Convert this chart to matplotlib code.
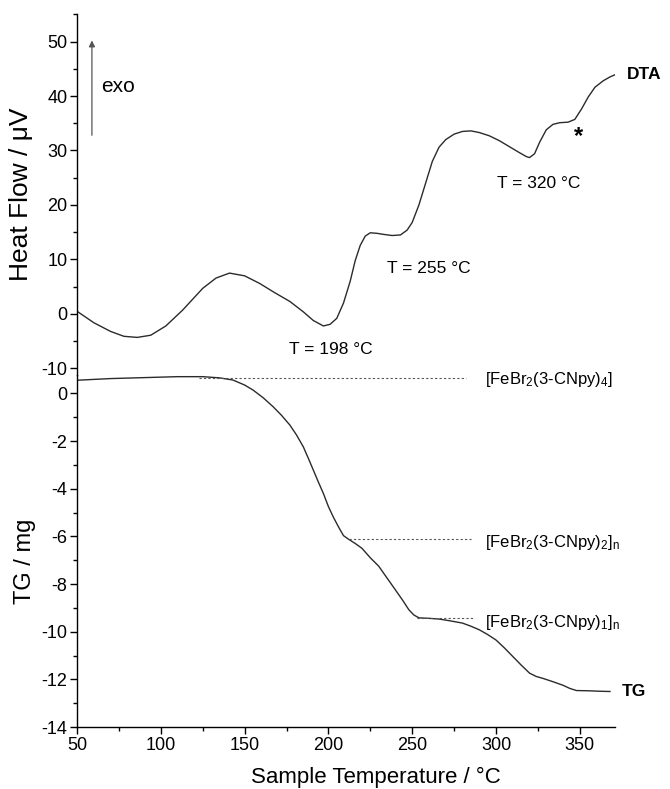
import numpy as np
import matplotlib
matplotlib.use("Agg")
import matplotlib.pyplot as plt
from matplotlib.ticker import MultipleLocator

plt.rcParams["font.family"] = ["Liberation Sans", "DejaVu Sans"]
plt.rcParams["mathtext.default"] = "regular"
plt.rcParams["axes.unicode_minus"] = False

# DTA trace (temperature in deg C, heat flow in uV)
dta_t = [50, 60, 70, 78, 86, 94, 103, 113, 125, 133, 141, 150, 159, 168, 177,
         185, 191, 197, 201, 205, 209, 213, 216, 219, 222, 225, 229, 233, 238,
         243, 247, 250, 254, 258, 262, 266, 270, 275, 280, 285, 290, 296, 302,
         308, 314, 318, 320, 323, 326, 330, 334, 338, 343, 347, 351, 355, 359,
         364, 368, 371]
dta_hf = [0.5, -1.6, -3.2, -4.1, -4.3, -3.9, -2.2, 0.7, 4.7, 6.6, 7.5, 7.0, 5.6,
          3.9, 2.3, 0.4, -1.2, -2.2, -1.9, -0.8, 2.0, 6.0, 9.8, 12.6, 14.3, 14.9,
          14.8, 14.6, 14.4, 14.5, 15.4, 16.8, 20.0, 24.0, 28.0, 30.6, 32.0, 33.0,
          33.5, 33.6, 33.3, 32.7, 31.8, 30.7, 29.6, 28.9, 28.7, 29.4, 31.5, 33.8,
          34.8, 35.1, 35.2, 35.7, 37.6, 39.8, 41.6, 42.8, 43.5, 43.9]

# TG trace (temperature in deg C, mass change in mg)
tg_t = [50, 70, 90, 110, 125, 135, 143, 150, 155, 161, 167, 172, 177, 181, 185,
        188, 191, 194, 197, 200, 203, 206, 209, 212, 216, 220, 225, 230, 235,
        240, 244, 248, 251, 254, 260, 266, 273, 280, 285, 290, 295, 300, 305,
        310, 315, 320, 324, 328, 334, 340, 344, 348, 355, 362, 368]
tg_m = [0.55, 0.62, 0.66, 0.70, 0.70, 0.65, 0.56, 0.35, 0.14, -0.18, -0.56,
        -0.92, -1.33, -1.75, -2.24, -2.72, -3.22, -3.72, -4.20, -4.75, -5.20,
        -5.60, -5.97, -6.12, -6.30, -6.50, -6.90, -7.25, -7.75, -8.25, -8.65,
        -9.08, -9.30, -9.42, -9.44, -9.47, -9.55, -9.64, -9.77, -9.92, -10.12,
        -10.35, -10.68, -11.04, -11.40, -11.74, -11.88, -11.96, -12.10, -12.25,
        -12.38, -12.47, -12.48, -12.50, -12.51]

# DTA peak annotations
peak_labels = ["T = 198 °C", "T = 255 °C", "T = 320 °C"]
peak_label_t = [201.6, 260.0, 325.6]
peak_label_hf = [-6.6, 8.4, 24.0]

# TG plateaus: level, start/end of the guide line, species
plateau_m = [0.66, -6.12, -9.44]
plateau_start = [123, 212.5, 253]
plateau_end = [282, 285, 287]
plateau_names = [r"[FeBr$_2$(3-CNpy)$_4$]",
                 r"[FeBr$_2$(3-CNpy)$_2$]$_n$",
                 r"[FeBr$_2$(3-CNpy)$_1$]$_n$"]
plateau_label_m = [0.6, -6.25, -9.6]

W, H = 670, 789
fig = plt.figure(figsize=(W / 100, H / 100), dpi=100)
left = 77 / W
width = (615 - 77) / W
split = 375
ax_tg = fig.add_axes([left, 1 - 727 / H, width, (727 - split) / H])
ax_dta = fig.add_axes([left, 1 - split / H, width, (split - 14) / H], sharex=ax_tg)
for ax in (ax_tg, ax_dta):
    ax.patch.set_alpha(0)

line_col = "#2b2b2b"

# ---- DTA panel
ax_dta.plot(dta_t, dta_hf, color=line_col, lw=1.0)
ax_dta.set_ylim(-11.2, 55.05)
ax_dta.yaxis.set_major_locator(MultipleLocator(10))
ax_dta.yaxis.set_minor_locator(MultipleLocator(5))
for s in ("top", "right", "bottom"):
    ax_dta.spines[s].set_visible(False)
ax_dta.tick_params(axis="x", which="both", bottom=False, labelbottom=False)
ax_dta.set_ylabel("Heat Flow / μV", fontsize=19, va="center")
ax_dta.yaxis.set_label_coords(-0.105, 0.5)

for lab, t, v in zip(peak_labels, peak_label_t, peak_label_hf):
    ax_dta.text(t, v, lab, fontsize=12.5, ha="center", va="center")
ax_dta.text(349.4, 32.6, "*", fontsize=17, fontweight="bold", ha="center", va="center")
ax_dta.text(378, 43.9, "DTA", fontsize=12.5, fontweight="bold", ha="left",
            va="center", clip_on=False)

# exo direction arrow
ax_dta.annotate("", xy=(58.9, 50.2), xytext=(58.9, 32.8),
                arrowprops=dict(arrowstyle="-|>", color="#555555", lw=0.9,
                                mutation_scale=9, shrinkA=0, shrinkB=0))
ax_dta.text(64.3, 41.7, "exo", fontsize=15, ha="left", va="center")

# ---- TG panel
ax_tg.plot(tg_t, tg_m, color=line_col, lw=1.0)
for m, x0, x1 in zip(plateau_m, plateau_start, plateau_end):
    ax_tg.plot([x0, x1], [m, m], color="#555555", lw=0.8, ls=(0, (2.0, 2.0)))
for name, m in zip(plateau_names, plateau_label_m):
    ax_tg.text(293.5, m, name, fontsize=12, ha="left", va="center")
ax_tg.text(375, -12.5, "TG", fontsize=12.5, fontweight="bold", ha="left",
           va="center", clip_on=False)

ax_tg.set_ylim(-14, 0.77)
ax_tg.set_xlim(50, 371)
ax_tg.yaxis.set_major_locator(MultipleLocator(2))
ax_tg.yaxis.set_minor_locator(MultipleLocator(1))
ax_tg.xaxis.set_major_locator(MultipleLocator(50))
ax_tg.xaxis.set_minor_locator(MultipleLocator(25))
for s in ("top", "right"):
    ax_tg.spines[s].set_visible(False)
ax_tg.set_ylabel("TG / mg", fontsize=17, va="center")
ax_tg.yaxis.set_label_coords(-0.097, 0.47)
ax_tg.set_xlabel("Sample Temperature / °C", fontsize=16)
ax_tg.xaxis.set_label_coords(0.556, -0.142)
ax_tg.xaxis.label.set_va("center")

for ax in (ax_tg, ax_dta):
    for sp in ax.spines.values():
        sp.set_linewidth(1.0)
    ax.tick_params(which="major", direction="out", length=5, width=1.0,
                   labelsize=13, pad=2)
    ax.tick_params(which="minor", direction="out", length=3, width=1.0)

fig.savefig("out.png", dpi=100)
